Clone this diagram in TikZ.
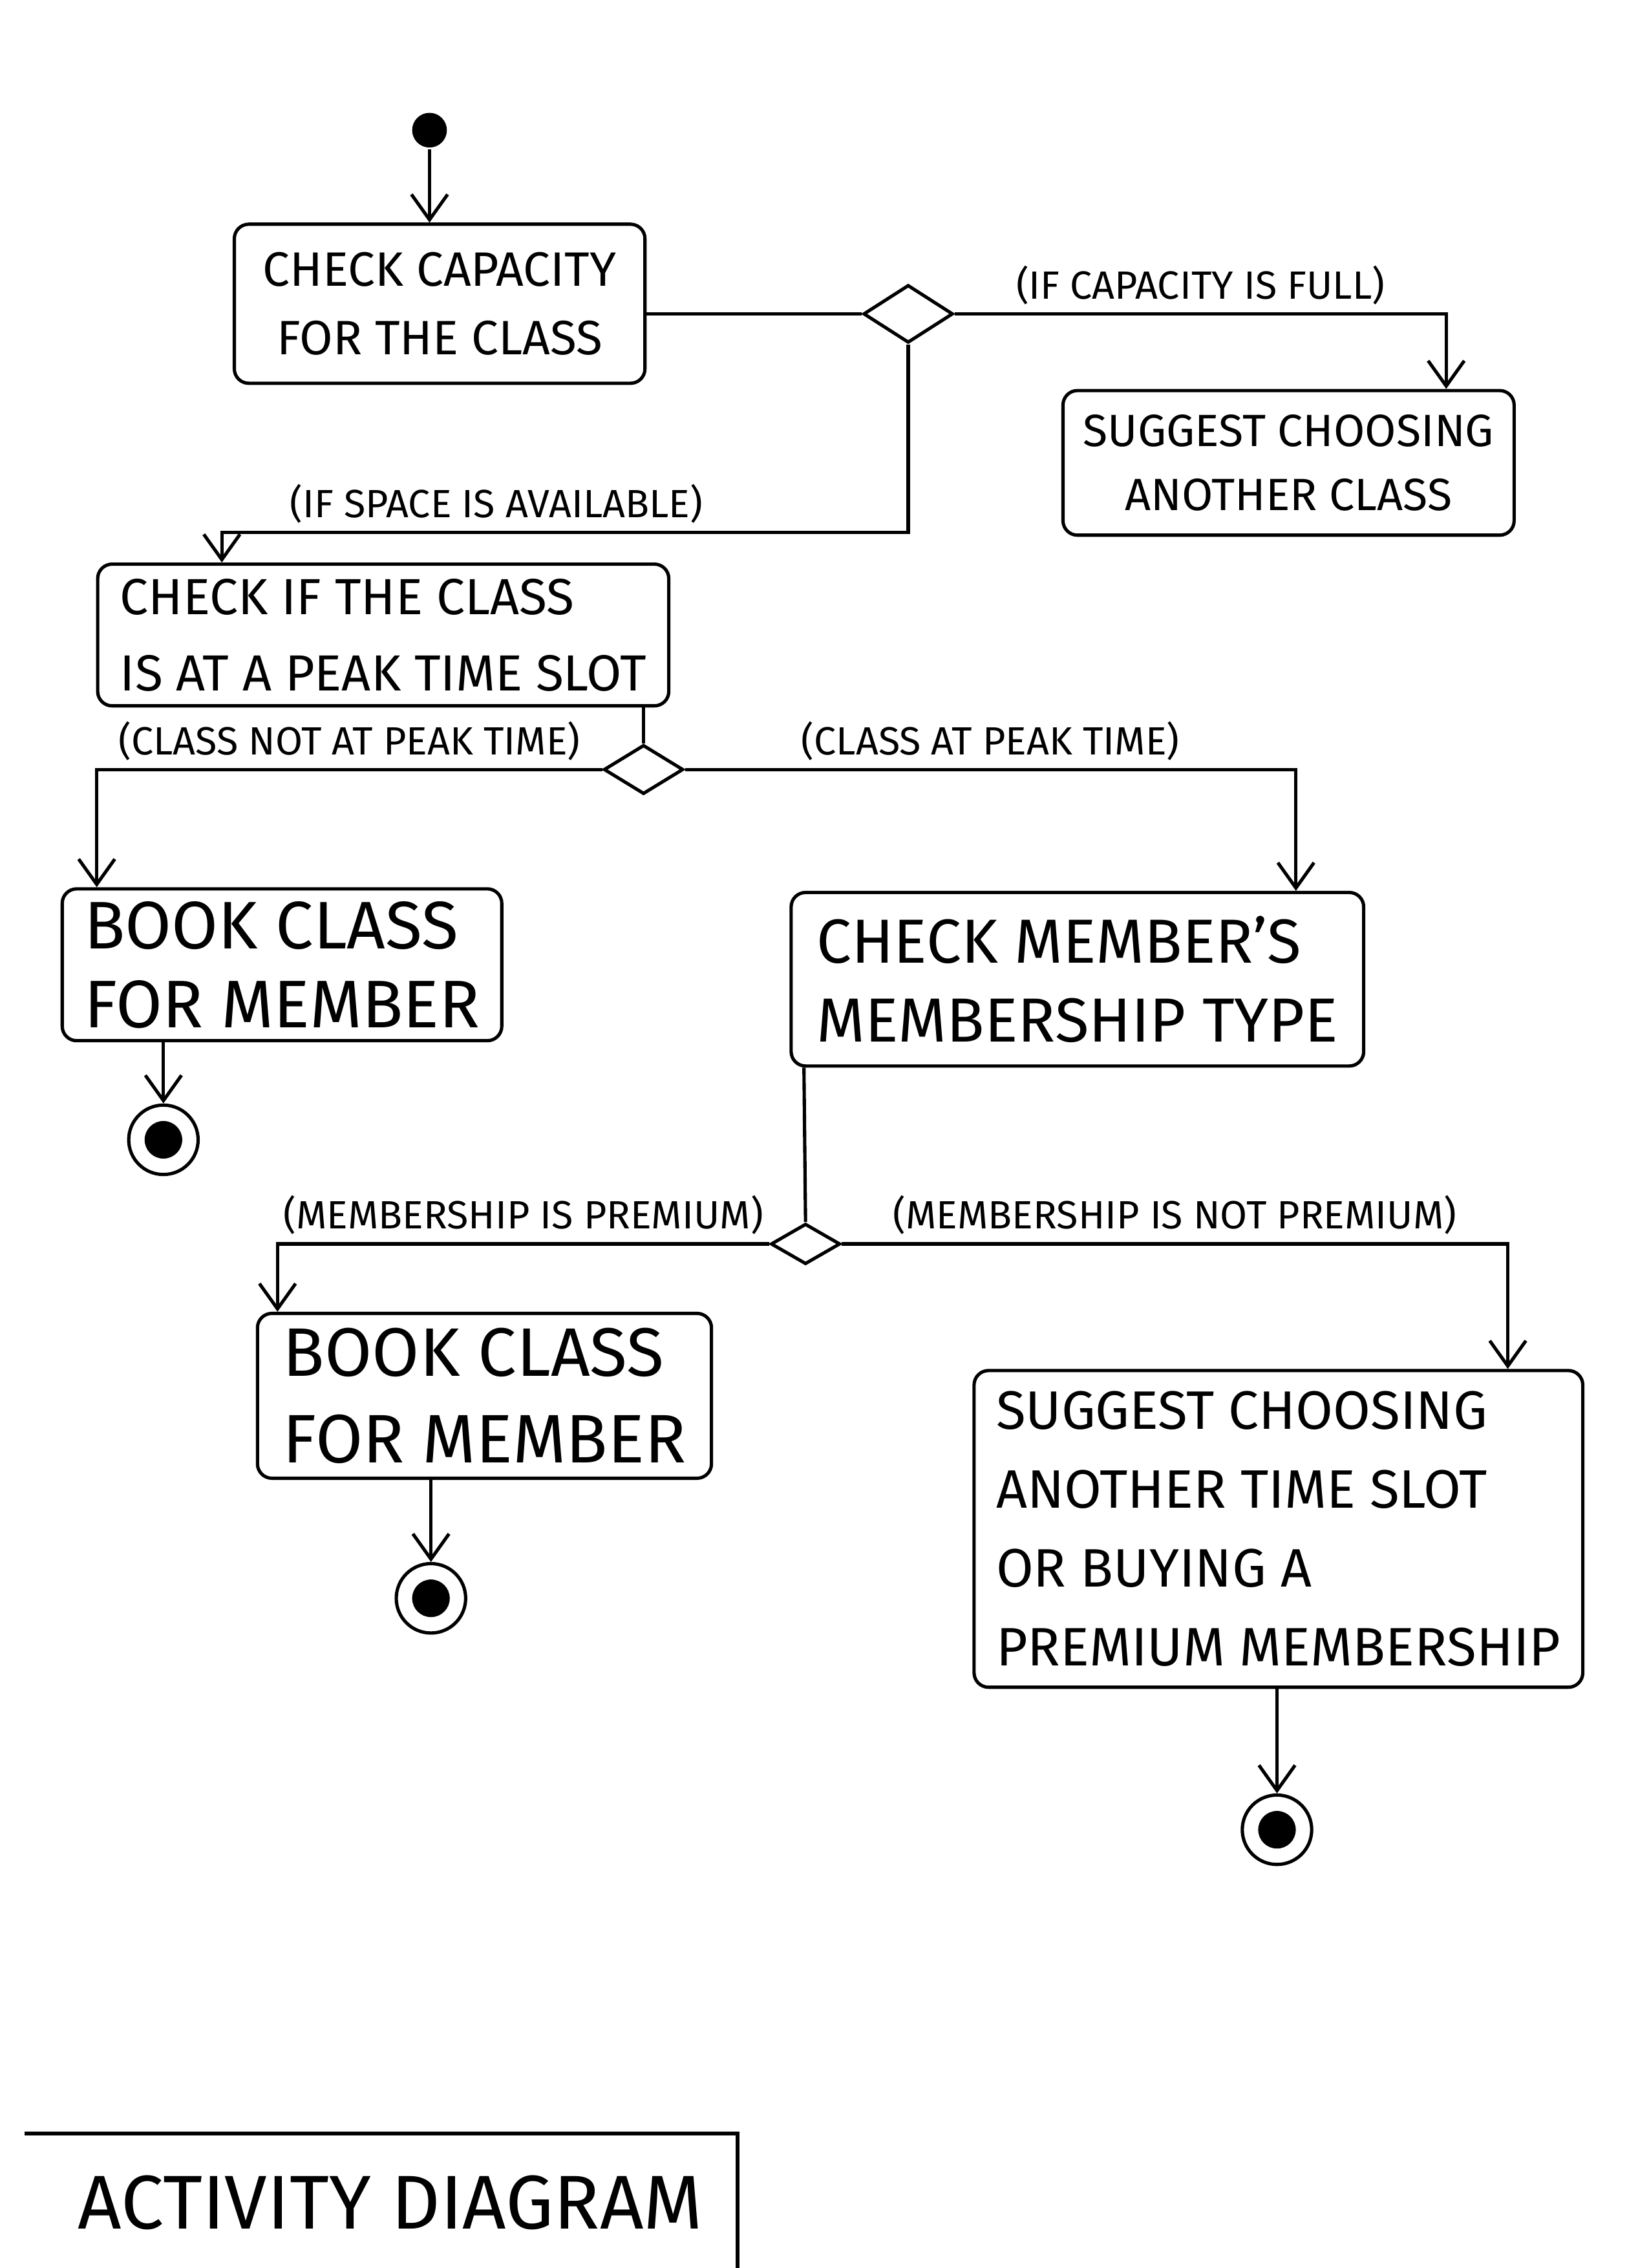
\documentclass[tikz,border=0pt]{standalone}
\usepackage{fontspec}
\setmainfont{Fira Sans}
\usetikzlibrary{positioning, calc}
\usetikzlibrary{shapes.geometric}
\usetikzlibrary{arrows.meta}

\begin{document}
\begin{tikzpicture}[x=0.02cm, y=-0.02cm, line width=1.3pt,
    >={Straight Barb[length=3.5mm,width=5mm]},
    activity/.style={draw, rounded corners=0.2cm, inner sep=0pt},
    decision/.style={draw, diamond, inner sep=0pt},
    guard/.style={above, inner sep=3pt, font=\fontsize{15.5}{18}\selectfont},
    startnode/.style={circle, fill, inner sep=0pt, minimum size=0.48cm},
    endnode/.style={circle, draw, inner sep=0pt, minimum size=0.96cm,
        path picture={\fill (path picture bounding box.center) circle (0.26cm);}}]
    \useasboundingbox (0,0) rectangle (1140,1568);
    %Activity diagram
    \node[startnode] (start) at (297,90) {};
    \node[activity, minimum width=5.68cm, minimum height=2.2cm, align=center,
        font=\fontsize{19}{27}\selectfont] (capacity) at (304,210) {CHECK CAPACITY\\FOR THE CLASS};
    \node[decision, minimum width=1.24cm, minimum height=0.8cm] (full) at (628,217) {};
    \node[activity, minimum width=6.24cm, minimum height=2cm, align=center,
        font=\fontsize{17.8}{25}\selectfont] (otherclass) at (891,320) {SUGGEST CHOOSING\\ANOTHER CLASS};
    \node[activity, minimum width=7.9cm, minimum height=1.96cm, align=left,
        font=\fontsize{20}{30}\selectfont] (peak) at (265,439) {CHECK IF THE CLASS\\IS AT A PEAK TIME SLOT};
    \node[decision, minimum width=1.1cm, minimum height=0.68cm] (peaktest) at (445,532) {};
    \node[activity, minimum width=6.08cm, minimum height=2.1cm, align=left,
        font=\fontsize{26.5}{31}\selectfont] (book1) at (195,667) {BOOK CLASS\\FOR MEMBER};
    \node[endnode] (end1) at (113,788) {};
    \node[activity, minimum width=7.92cm, minimum height=2.4cm, align=left,
        font=\fontsize{24.5}{31}\selectfont] (membertype) at (745,677) {CHECK MEMBER'S\\MEMBERSHIP TYPE};
    \node[decision, minimum width=0.96cm, minimum height=0.56cm] (typetest) at (557,860) {};
    \node[activity, minimum width=6.28cm, minimum height=2.28cm, align=left,
        font=\fontsize{27}{34}\selectfont] (book2) at (335,965) {BOOK CLASS\\FOR MEMBER};
    \node[endnode] (end2) at (298,1105) {};
    \node[activity, minimum width=8.42cm, minimum height=4.38cm, align=left,
        font=\fontsize{21.3}{31}\selectfont] (othertime) at (884,1057) {SUGGEST CHOOSING\\ANOTHER TIME SLOT\\OR BUYING A\\PREMIUM MEMBERSHIP};
    \node[endnode] (end3) at (883,1265) {};

    \draw[->] (start) -- (start |- capacity.north);
    \draw (capacity.east |- full) -- (full.west);
    \draw[->] (full.east) -| node[guard, pos=0.25] {(IF CAPACITY IS FULL)} ($(otherclass.north)+(109,0)$);
    \draw[->] (full.south) -- ++(0,130) -| node[guard, pos=0.3] {(IF SPACE IS AVAILABLE)} ($(peak.north west)+(87,0)$);
    \draw (peak.south -| peaktest.north) -- (peaktest.north);
    \draw[->] (peaktest.west) -| node[guard, pos=0.25] {(CLASS NOT AT PEAK TIME)} ($(book1.north west)+(25,0)$);
    \draw[->] (peaktest.east) -| node[guard, pos=0.25] {(CLASS AT PEAK TIME)} ($(membertype.north east)+(-48,0)$);
    \draw[->] (end1 |- book1.south) -- (end1);
    \draw ($(membertype.south west)+(10,0)$) -- (typetest.north);
    \draw[->] (typetest.west) -| node[guard, pos=0.25] {(MEMBERSHIP IS PREMIUM)} ($(book2.north west)+(15,0)$);
    \draw[->] (typetest.east) -| node[guard, pos=0.25] {(MEMBERSHIP IS NOT PREMIUM)} ($(othertime.north east)+(-53,0)$);
    \draw[->] (end2 |- book2.south) -- (end2);
    \draw[->] (end3 |- othertime.south) -- (end3);

    \draw (17,1475) -- (510,1475) -- (510,1568);
    \node[font=\fontsize{30}{34}\selectfont] (title) at (270,1523) {ACTIVITY DIAGRAM};
\end{tikzpicture}
\end{document}
